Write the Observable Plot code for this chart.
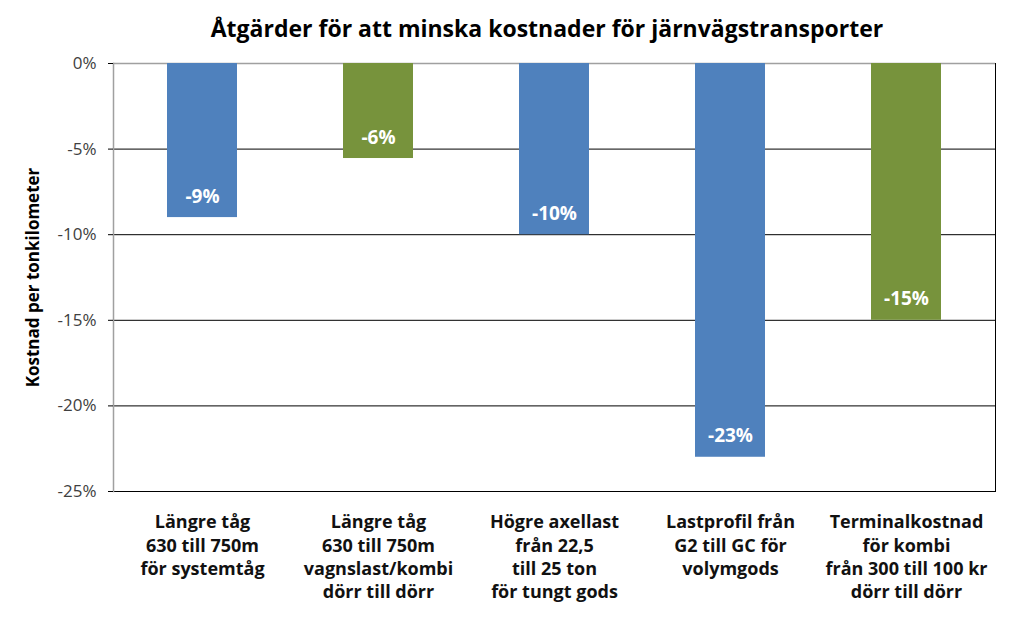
<!DOCTYPE html>
<html>
<head>
<meta charset="utf-8">
<script src="https://cdn.jsdelivr.net/npm/d3@7"></script>
<script src="https://cdn.jsdelivr.net/npm/@observablehq/plot@0.6"></script>
<style>
  html, body { margin: 0; padding: 0; background: #fff; }
  #title { width: 1024px; height: 50px; box-sizing: border-box; padding-left: 70px; text-align: center;
    font-family: "Open Sans", sans-serif; font-weight: bold; font-size: 23px; line-height: 56px; color: #000; }
  svg { display: block; }
</style>
</head>
<body>
<div id="title">Åtgärder för att minska kostnader för järnvägstransporter</div>
<div id="chart"></div>
<script>
const categories = [
  "Längre tåg\n630 till 750m\nför systemtåg",
  "Längre tåg\n630 till 750m\nvagnslast/kombi\ndörr till dörr",
  "Högre axellast\nfrån 22,5\ntill 25 ton\nför tungt gods",
  "Lastprofil från\nG2 till GC för\nvolymgods",
  "Terminalkostnad\nför kombi\nfrån 300 till 100 kr\ndörr till dörr"
];
const values = [-9.0, -5.55, -10.0, -23.0, -15.0];
const valueLabels = ["-9%", "-6%", "-10%", "-23%", "-15%"];
const groups = ["A", "B", "A", "A", "B"];
const yTicks = [0, -5, -10, -15, -20, -25];
const yTitle = "Kostnad per tonkilometer";

const data = categories.map((c, i) => ({cat: c, value: values[i], label: valueLabels[i], group: groups[i]}));

const font = "'Open Sans', sans-serif";

const chart = Plot.plot({
  width: 1024,
  height: 577,
  marginLeft: 113,
  marginRight: 29,
  marginTop: 13,
  marginBottom: 136,
  style: {fontFamily: font, background: "#fff"},
  x: {domain: categories, paddingInner: 0.6, paddingOuter: 0.3, label: null},
  y: {domain: [-25, 0], label: null},
  color: {domain: ["A", "B"], range: ["#4F81BD", "#77933C"]},
  marks: [
    Plot.ruleY([-5, -10, -15, -20, -25], {stroke: "#000", strokeWidth: 1, strokeOpacity: 1}),
    Plot.ruleY([0], {stroke: "#a0a0a0", strokeWidth: 1.5}),
    Plot.barY(data, {x: "cat", y: "value", fill: "group"}),
    Plot.frame({anchor: "left", stroke: "#a0a0a0", strokeWidth: 1.5}),
    Plot.frame({anchor: "right", stroke: "#000", strokeWidth: 1}),
    Plot.text(data, {x: "cat", y: "value", text: "label", dy: -21, fill: "#fff",
      fontWeight: "bold", fontSize: 19, fontFamily: font}),
    Plot.axisY({ticks: yTicks, tickFormat: d => d + "%", tickSize: 5, tickPadding: 12,
      fontSize: 17, fill: "#404040", stroke: "#000", label: null}),
    Plot.axisX({tickSize: 0, tickPadding: 20, fontSize: 18, fontWeight: "bold", fill: "#111",
      lineHeight: 1.3, label: null}),
    Plot.text([yTitle], {frameAnchor: "left", textAnchor: "middle", dx: -80, rotate: -90, fontSize: 17,
      fontWeight: "bold", fill: "#000", fontFamily: font})
  ]
});
document.getElementById("chart").appendChild(chart);
</script>
</body>
</html>
